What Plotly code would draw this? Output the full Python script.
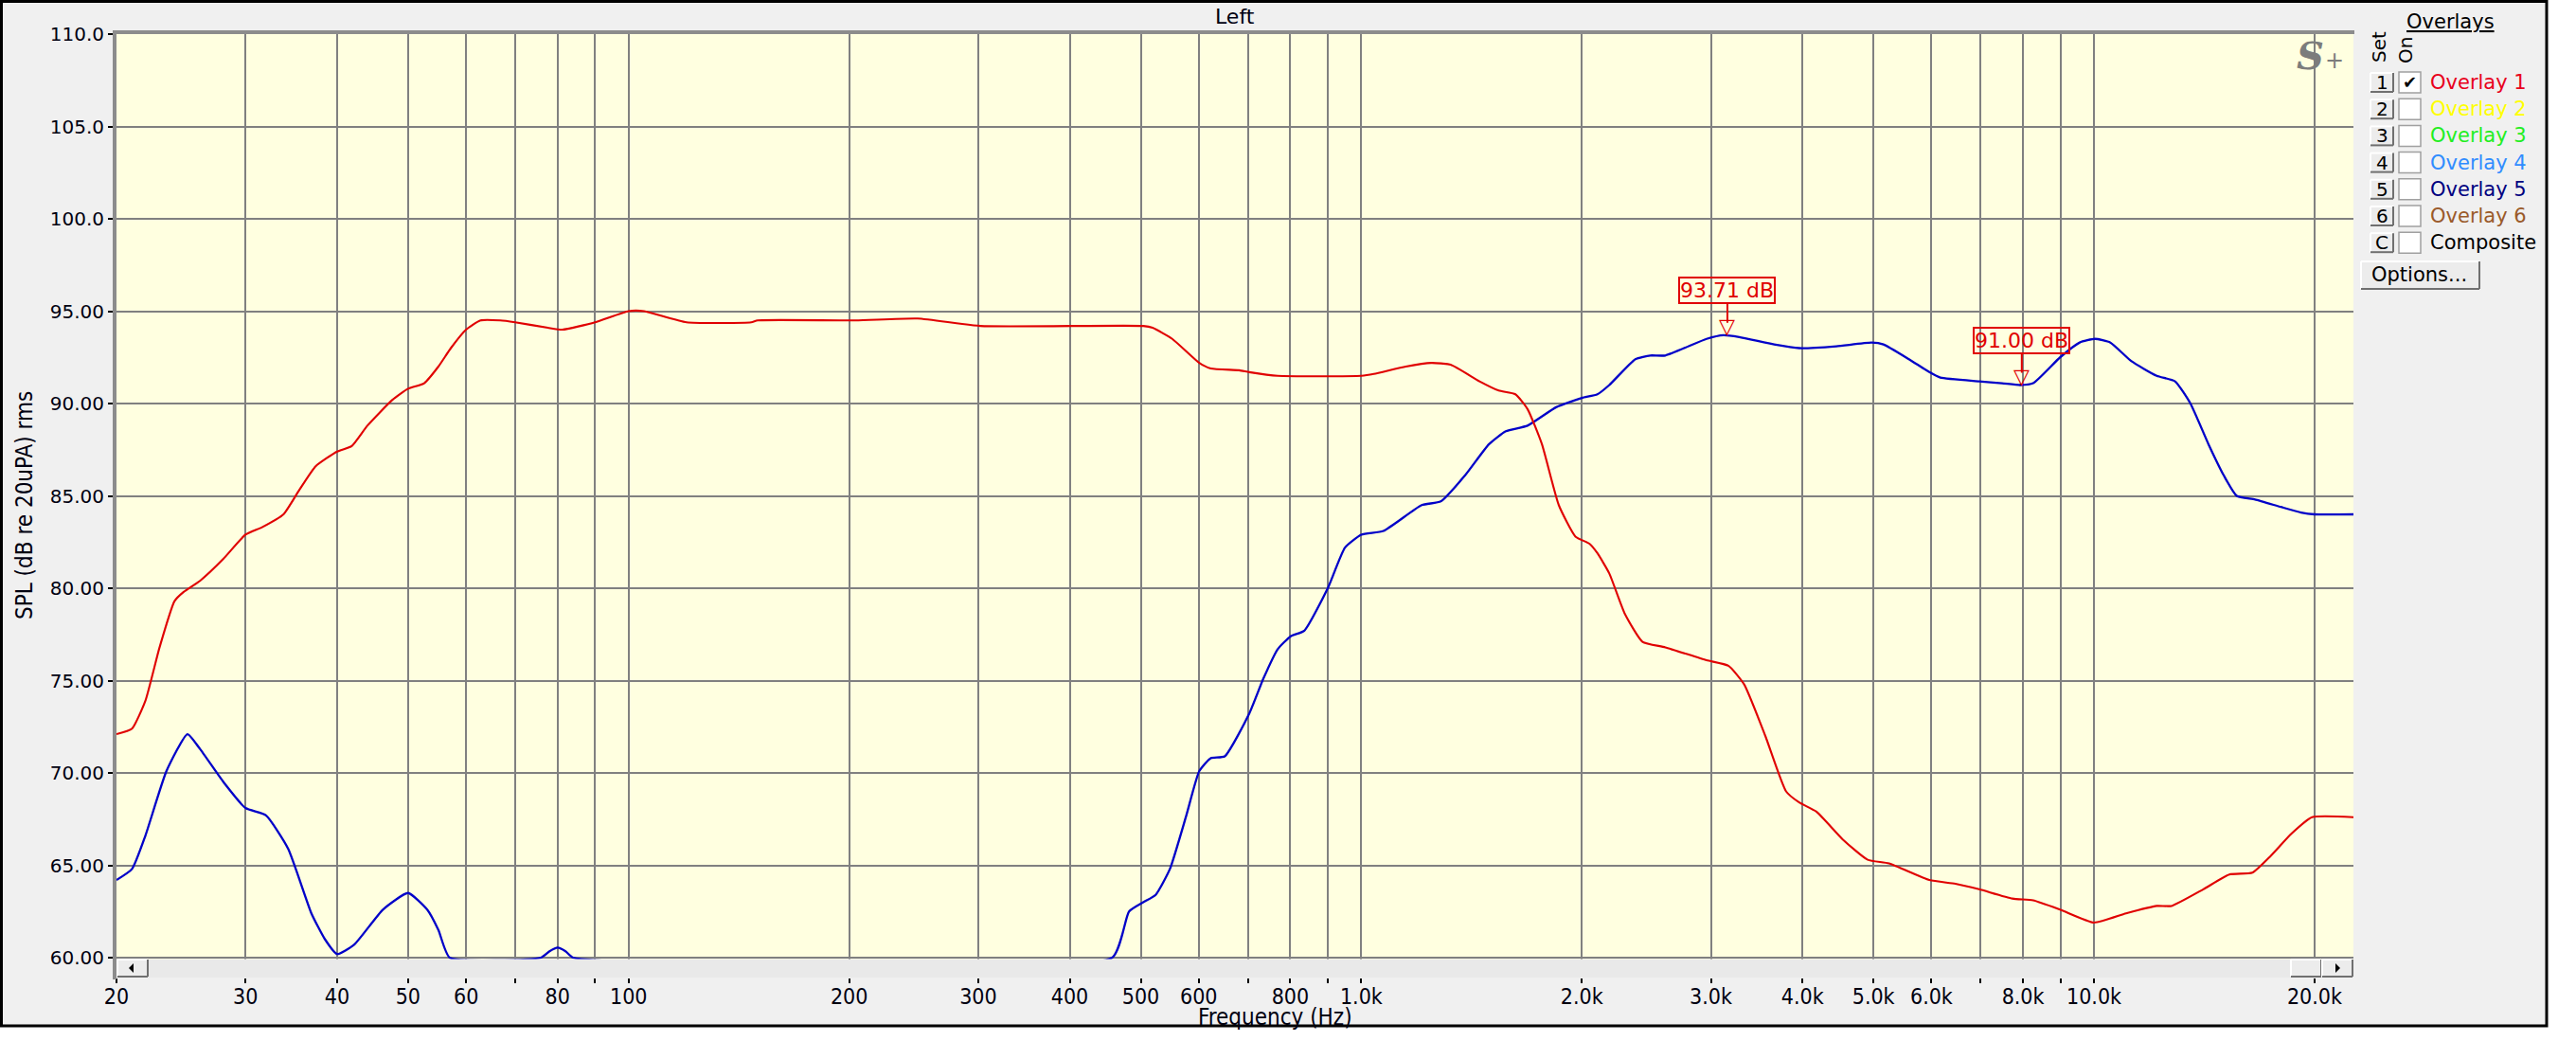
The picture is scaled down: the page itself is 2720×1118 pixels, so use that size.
import numpy as np
import plotly.graph_objects as go

# ---------------- data ----------------
freq_red = [20, 21, 21.9, 22.9, 24, 24.7, 26, 28, 30, 31.6, 33.8, 35.5, 37.4, 40, 41.9, 44, 47.6, 50,
            52.6, 55, 57.2, 60, 62.8, 66.8, 70, 77.6, 81.2, 90, 100, 105, 120, 147, 150, 204, 248, 302,
            504, 519, 552, 601, 623, 681, 703, 769, 1000, 1040, 1150, 1246, 1324, 1450, 1540, 1623,
            1686, 1764, 1860, 1960, 2050, 2100, 2180, 2290, 2420, 2600, 2960, 3170, 3330, 3560, 3800,
            3960, 4180, 4540, 4910, 5250, 5960, 6470, 6970, 7740, 8260, 8990, 10000, 11060, 12180,
            12760, 14100, 15300, 16450, 17420, 18590, 19840, 22600]
spl_red = [72.1, 72.4, 73.9, 76.8, 79.3, 79.8, 80.4, 81.6, 82.9, 83.3, 84.0, 85.3, 86.6, 87.4, 87.7, 88.8,
           90.2, 90.8, 91.1, 92.0, 93.0, 94.0, 94.5, 94.5, 94.4, 94.1, 94.0, 94.4, 95.0, 95.0, 94.4, 94.4,
           94.5, 94.5, 94.6, 94.2, 94.2, 94.1, 93.5, 92.2, 91.9, 91.8, 91.7, 91.5, 91.5, 91.6, 92.0, 92.2,
           92.1, 91.2, 90.7, 90.5, 89.7, 87.8, 84.5, 82.8, 82.4, 81.9, 80.8, 78.6, 77.1, 76.8, 76.1, 75.8,
           74.8, 72.0, 69.0, 68.4, 67.9, 66.4, 65.3, 65.1, 64.2, 64.0, 63.7, 63.2, 63.1, 62.6, 61.9, 62.4,
           62.8, 62.8, 63.7, 64.5, 64.6, 65.5, 66.7, 67.6, 67.6]

freq_blue = [20, 21, 21.9, 23.4, 25, 26, 28, 30, 32, 34.3, 36.9, 38.5, 40, 42.2, 46.2, 50, 53.1, 55, 57,
             75.9, 78, 80, 82, 84, 457, 482, 504, 524, 548, 577, 601, 623, 651, 703, 735, 769, 801, 836,
             900, 950, 1000, 1072, 1209, 1284, 1385, 1494, 1575, 1686, 1845, 2000, 2100, 2180, 2366,
             2480, 2600, 2960, 3120, 3280, 3660, 3960, 4450, 4970, 5160, 5590, 5960, 6170, 6970, 7490,
             7930, 8260, 8990, 9560, 10030, 10530, 11240, 12180, 12900, 13540, 14330, 15040, 15660,
             16590, 17990, 19170, 20000, 22600]
spl_blue = [64.2, 64.8, 66.6, 70.1, 72.1, 71.3, 69.5, 68.1, 67.7, 65.9, 62.4, 61.0, 60.2, 60.7, 62.6, 63.5,
            62.6, 61.5, 60.0, 60.0, 60.35, 60.55, 60.35, 60.0, 60.0, 62.5, 63.0, 63.4, 64.8, 67.7, 70.1,
            70.8, 70.9, 73.2, 75.1, 76.7, 77.4, 77.7, 80.0, 82.2, 82.9, 83.1, 84.5, 84.7, 86.1, 87.8, 88.5,
            88.8, 89.8, 90.3, 90.5, 91.0, 92.4, 92.6, 92.6, 93.5, 93.7, 93.6, 93.2, 93.0, 93.1, 93.3, 93.2,
            92.4, 91.7, 91.4, 91.2, 91.1, 91.0, 91.1, 92.5, 93.3, 93.5, 93.3, 92.3, 91.5, 91.2, 90.0, 87.8,
            86.1, 85.0, 84.8, 84.4, 84.1, 84.0, 84.0]

marker_freq = [3160, 7970]
marker_spl = [93.71, 91.00]

x_tick_vals = [20, 30, 40, 50, 60, 70, 80, 90, 100, 200, 300, 400, 500, 600, 700, 800, 900,
               1000, 2000, 3000, 4000, 5000, 6000, 7000, 8000, 9000, 10000, 20000]
x_tick_text = ["20", "30", "40", "50", "60", "", "80", "", "100", "200", "300", "400", "500", "600", "",
               "800", "", "1.0k", "2.0k", "3.0k", "4.0k", "5.0k", "6.0k", "", "8.0k", "", "10.0k", "20.0k"]
y_tick_vals = [60, 65, 70, 75, 80, 85, 90, 95, 100, 105, 110]
y_tick_text = ["60.00", "65.00", "70.00", "75.00", "80.00", "85.00", "90.00", "95.00",
               "100.0", "105.0", "110.0"]

overlay_keys = ["1", "2", "3", "4", "5", "6", "C"]
overlay_names = ["Overlay 1", "Overlay 2", "Overlay 3", "Overlay 4", "Overlay 5", "Overlay 6", "Composite"]
overlay_colors = ["#e8001c", "#ffff00", "#22ee22", "#2f8cff", "#000080", "#9a5a2a", "#000000"]
overlay_on = [True, False, False, False, False, False, False]

# ---------------- layout geometry ----------------
W, H = 2720, 1118
L, R, T, B = 123, 2485, 36, 1032
Y60_PX = 1011
PX_PER_DB = 19.5
y_bottom = 60 - (B - Y60_PX) / PX_PER_DB

def X(px):
    return (px - L) / (R - L)

def Y(py):
    return (B - py) / (B - T)

UI = "DejaVu Sans"
UIC = "DejaVu Sans Condensed, DejaVu Sans"
RED = "#e00000"
BLUE = "#0000c8"

fig = go.Figure()
fig.add_trace(go.Scatter(x=freq_blue, y=spl_blue, mode="lines",
                         line=dict(color=BLUE, width=2.3, shape="spline", smoothing=0.5),
                         hoverinfo="skip", showlegend=False))
fig.add_trace(go.Scatter(x=freq_red, y=spl_red, mode="lines",
                         line=dict(color=RED, width=2.1, shape="spline", smoothing=0.5),
                         hoverinfo="skip", showlegend=False))

shapes = []
# window background and frame
shapes.append(dict(type="rect", xref="paper", yref="paper", x0=X(1.5), x1=X(2689), y0=Y(1083), y1=Y(1.5),
                   fillcolor="#f0f0f0", line=dict(color="#000000", width=3), layer="below"))
# plot background
shapes.append(dict(type="rect", xref="paper", yref="paper", x0=0, x1=1, y0=0, y1=1,
                   fillcolor="#ffffe0", line=dict(width=0), layer="below"))
# scrollbar strip
shapes.append(dict(type="rect", xref="paper", yref="paper", x0=X(123), x1=X(2485), y0=Y(1032), y1=Y(1012.5),
                   fillcolor="#e9e9e9", line=dict(width=0), layer="above"))


def raised(x0, y0, x1, y1, fill="#ececec"):
    out = [dict(type="rect", xref="paper", yref="paper", x0=X(x0), x1=X(x1), y0=Y(y1), y1=Y(y0),
                fillcolor=fill, line=dict(width=0), layer="above")]
    for (a, b, c, d, col) in [(x0, y0, x1, y0, "#ffffff"), (x0, y0, x0, y1, "#ffffff"),
                              (x0, y1, x1, y1, "#707070"), (x1, y0, x1, y1, "#707070")]:
        out.append(dict(type="line", xref="paper", yref="paper", x0=X(a), x1=X(c), y0=Y(b), y1=Y(d),
                        line=dict(color=col, width=2), layer="above"))
    return out

shapes += raised(124, 1013, 156, 1031)
shapes += raised(2419, 1013, 2451, 1031)
shapes += raised(2452, 1013, 2484, 1031)
shapes.append(dict(type="path", xref="paper", yref="paper",
                   path=f"M {X(136)},{Y(1022)} L {X(141)},{Y(1017)} L {X(141)},{Y(1027)} Z",
                   fillcolor="#000000", line=dict(width=0), layer="above"))
shapes.append(dict(type="path", xref="paper", yref="paper",
                   path=f"M {X(2471)},{Y(1022)} L {X(2466)},{Y(1017)} L {X(2466)},{Y(1027)} Z",
                   fillcolor="#000000", line=dict(width=0), layer="above"))
# plot borders (top and left, thick grey)
shapes.append(dict(type="line", xref="paper", yref="paper", x0=X(119), x1=X(2486), y0=Y(34), y1=Y(34),
                   line=dict(color="#8c8c8c", width=4), layer="above"))
shapes.append(dict(type="line", xref="paper", yref="paper", x0=X(121), x1=X(121), y0=Y(32), y1=Y(1034),
                   line=dict(color="#8c8c8c", width=4), layer="above"))

annotations = []
# title and axis titles
annotations.append(dict(text="Left", xref="paper", yref="paper", x=X(1304), y=Y(18), showarrow=False,
                        font=dict(family=UI, size=22, color="#000010"), xanchor="center", yanchor="middle"))
annotations.append(dict(text="Frequency (Hz)", xref="paper", yref="paper", x=X(1346), y=Y(1074),
                        showarrow=False, font=dict(family=UIC, size=24, color="#000010"),
                        xanchor="center", yanchor="middle"))
annotations.append(dict(text="SPL (dB re 20uPA) rms", xref="paper", yref="paper", x=X(26), y=Y(534),
                        showarrow=False, textangle=-90, font=dict(family=UIC, size=24, color="#000010"),
                        xanchor="center", yanchor="middle"))
# logo
annotations.append(dict(text="<b><i>S</i></b>", xref="paper", yref="paper", x=X(2439), y=Y(58),
                        showarrow=False, font=dict(family="DejaVu Serif", size=40, color="#7c7c7c"),
                        xanchor="center", yanchor="middle"))
annotations.append(dict(text="+", xref="paper", yref="paper", x=X(2465), y=Y(64),
                        showarrow=False, font=dict(family=UI, size=24, color="#7c7c7c"),
                        xanchor="center", yanchor="middle"))

# markers (value labels with stems and open triangles)
for f, v in zip(marker_freq, marker_spl):
    annotations.append(dict(x=np.log10(f), y=v, xref="x", yref="y", text=f"{v:.2f} dB",
                            showarrow=True, arrowhead=0, arrowwidth=2, arrowcolor=RED, ax=0, ay=-47,
                            standoff=13, font=dict(family=UI, size=22, color=RED),
                            bordercolor=RED, borderwidth=2, borderpad=0, bgcolor="rgba(0,0,0,0)"))
    annotations.append(dict(x=np.log10(f), y=v, xref="x", yref="y", text="▽", showarrow=False,
                            xanchor="center", yanchor="bottom", yshift=-5,
                            font=dict(family=UI, size=22, color=RED)))

# right-hand overlay panel
annotations.append(dict(text="<u>Overlays</u>", xref="paper", yref="paper", x=X(2587), y=Y(23),
                        showarrow=False, font=dict(family=UI, size=21, color="#000000"),
                        xanchor="center", yanchor="middle"))
annotations.append(dict(text="Set", xref="paper", yref="paper", x=X(2512), y=Y(50), showarrow=False,
                        textangle=-90, font=dict(family=UI, size=20, color="#000000"),
                        xanchor="center", yanchor="middle"))
annotations.append(dict(text="On", xref="paper", yref="paper", x=X(2540), y=Y(53), showarrow=False,
                        textangle=-90, font=dict(family=UI, size=20, color="#000000"),
                        xanchor="center", yanchor="middle"))
for i, (k, name, col, on) in enumerate(zip(overlay_keys, overlay_names, overlay_colors, overlay_on)):
    yc = 87 + 28.2 * i
    shapes += raised(2503, yc - 10, 2527, yc + 10)
    annotations.append(dict(text=k, xref="paper", yref="paper", x=X(2515), y=Y(yc), showarrow=False,
                            font=dict(family=UI, size=20, color="#000000"), xanchor="center", yanchor="middle"))
    shapes.append(dict(type="rect", xref="paper", yref="paper", x0=X(2533), x1=X(2556),
                       y0=Y(yc + 11), y1=Y(yc - 11), fillcolor="#ffffff",
                       line=dict(color="#a0a0a0", width=1.5), layer="above"))
    if on:
        annotations.append(dict(text="✔", xref="paper", yref="paper", x=X(2544.5), y=Y(yc), showarrow=False,
                                font=dict(family=UI, size=18, color="#000000"),
                                xanchor="center", yanchor="middle"))
    annotations.append(dict(text=name, xref="paper", yref="paper", x=X(2564), y=Y(yc), showarrow=False,
                            font=dict(family=UI, size=21, color=col), xanchor="left", yanchor="middle"))
shapes += raised(2493, 276, 2618, 305)
annotations.append(dict(text="Options...", xref="paper", yref="paper", x=X(2555), y=Y(290), showarrow=False,
                        font=dict(family=UI, size=21, color="#000000"), xanchor="center", yanchor="middle"))

fig.update_layout(
    width=W, height=H,
    margin=dict(l=L, r=W - R, t=T, b=H - B, pad=0),
    paper_bgcolor="#ffffff",
    plot_bgcolor="rgba(0,0,0,0)",
    showlegend=False,
    shapes=shapes,
    annotations=annotations,
    xaxis=dict(type="log", range=[np.log10(20), np.log10(22600)], tickmode="array",
               tickvals=x_tick_vals, ticktext=x_tick_text, showgrid=True, gridcolor="#808080",
               gridwidth=2, showline=False, zeroline=False, ticks="outside", ticklen=5, tickwidth=2,
               tickcolor="#000000", ticklabelstandoff=-6,
               tickfont=dict(family=UIC, size=23, color="#000010")),
    yaxis=dict(range=[y_bottom, 110], tickmode="array", tickvals=y_tick_vals, ticktext=y_tick_text,
               showgrid=True, gridcolor="#808080", gridwidth=2, showline=False, zeroline=False,
               ticks="outside", ticklen=8, tickwidth=2, tickcolor="#000000",
               tickfont=dict(family=UI, size=20, color="#000010")),
)

fig.write_html("out.html", config={"displayModeBar": False},
               post_script="document.body.style.margin='0px';")
